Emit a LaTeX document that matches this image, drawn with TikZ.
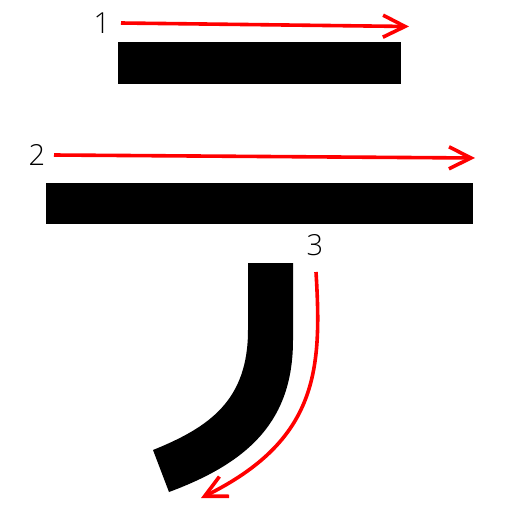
\documentclass[tikz,border=0pt]{standalone}
\usepackage{fontspec}
\setmainfont{Open Sans}[UprightFont=* Light]
\usetikzlibrary{arrows.meta}
\begin{document}
\begin{tikzpicture}[x=1pt,y=-1pt,
  strokefill/.style={fill=black,draw=none},
  orderarrow/.style={draw=red,line width=3.6pt,-{Straight Barb[length=22pt,width=22pt,line width=3.6pt]}},
  numlabel/.style={font=\fontsize{29}{29}\selectfont,inner sep=0pt,text=black}]
\useasboundingbox (0,0) rectangle (512,512);
\fill[white] (0,0) rectangle (512,512);
% stroke 1
\path[strokefill] (118,42) rectangle (401,84);
\coordinate (a1s) at (121,23);
\coordinate (a1e) at (409,26.5);
\draw[orderarrow] (a1s) -- (a1e);
\node[numlabel] (n1) at (102,23) {1};
% stroke 2
\path[strokefill] (46,183) rectangle (473,224);
\coordinate (a2s) at (54,155);
\coordinate (a2e) at (475,158);
\draw[orderarrow] (a2s) -- (a2e);
\node[numlabel] (n2) at (37,155) {2};
% stroke 3
\path[strokefill] (248,263) -- (293,263) -- (293,340)
  .. controls (293,420) and (250,462) .. (169,492)
  -- (153,450)
  .. controls (210,427) and (248,400) .. (248,330) -- cycle;
\coordinate (a3s) at (316,272);
\coordinate (a3e) at (201,498);
\draw[orderarrow] (a3s) .. controls (322,370) and (318,440) .. (a3e);
\node[numlabel] (n3) at (315,245) {3};
\end{tikzpicture}
\end{document}
